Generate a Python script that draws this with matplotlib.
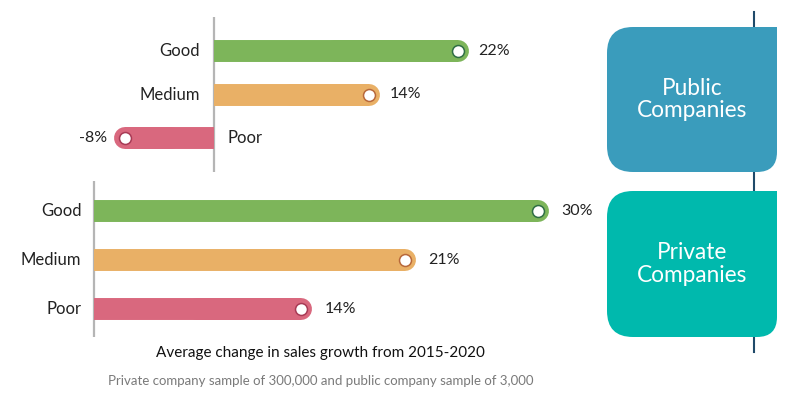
import matplotlib
matplotlib.use('Agg')
import matplotlib.pyplot as plt
from matplotlib.path import Path
from matplotlib.patches import PathPatch

plt.rcParams['font.family'] = ['Lato', 'DejaVu Sans']

categories = ['Good', 'Medium', 'Poor']
public_values = [22, 14, -8]
private_values = [30, 21, 14]
panel_titles = ['Public\nCompanies', 'Private\nCompanies']
caption = 'Average change in sales growth from 2015-2020'
subcaption = 'Private company sample of 300,000 and public company sample of 3,000'

bar_colors = ['#7db55a', '#e9b066', '#d9687e']
edge_colors = ['#2f6e45', '#b8683a', '#a83a55']
box_colors = ['#3a9cbc', '#00b9ad']

W, H = 800, 398
fig = plt.figure(figsize=(W / 100, H / 100), dpi=100)


def px_axes(x0, y0, x1, y1):
    # axes placed in pixel coords measured from top-left
    return fig.add_axes([x0 / W, 1 - y1 / H, (x1 - x0) / W, (y1 - y0) / H])


def draw_panel(ax, values, label_gap, val_gap):
    ax.axvline(0, color='#b5b5b5', lw=1.6, zorder=1)
    for i, (cat, v) in enumerate(zip(categories, values)):
        c = bar_colors[i]
        ax.plot([0, v], [i, i], color=c, lw=15.8, solid_capstyle='butt', zorder=2)
        ax.plot([v * 0.5, v], [i, i], color=c, lw=15.8, solid_capstyle='round', zorder=2)
        ax.plot([v], [i], 'o', ms=8.6, mfc='white', mec=edge_colors[i], mew=1.1, zorder=3)
        txt = f'{v}%'
        if v >= 0:
            ax.annotate(txt, (v, i), xytext=(val_gap, 0), textcoords='offset points',
                        ha='left', va='center', fontsize=11.5, color='#222222')
            ax.annotate(cat, (0, i), xytext=(-label_gap, 0), textcoords='offset points',
                        ha='right', va='center', fontsize=12, color='#222222')
        else:
            ax.annotate(txt, (v, i), xytext=(-13, 0), textcoords='offset points',
                        ha='right', va='center', fontsize=11.5, color='#222222')
            ax.annotate(cat, (0, i), xytext=(label_gap, 0), textcoords='offset points',
                        ha='left', va='center', fontsize=12, color='#222222')
    ax.axis('off')


# public companies panel
ax1 = px_axes(0, 17, 600, 172)
draw_panel(ax1, public_values, 10, 14.5)
ax1.set_xlim(-19.28, 34.77)
ax1.set_ylim(2.78, -0.78)

# private companies panel
ax2 = px_axes(0, 181, 600, 337)
draw_panel(ax2, private_values, 9, 17)
ax2.set_xlim(-6.35, 34.2)
ax2.set_ylim(2.56, -0.6)

# decoration layer in pixel coordinates
deco = fig.add_axes([0, 0, 1, 1], zorder=-1)
deco.set_xlim(0, W)
deco.set_ylim(H, 0)
deco.axis('off')

deco.plot([754, 754], [12, 352], color='#1f4a6a', lw=1.5, zorder=1)


def rounded_box(x0, y0, x1, y1, r_tl, r_tr, r_br, r_bl):
    verts = [
        (x0 + r_tl, y0), (x1 - r_tr, y0), (x1, y0), (x1, y0 + r_tr),
        (x1, y1 - r_br), (x1, y1), (x1 - r_br, y1),
        (x0 + r_bl, y1), (x0, y1), (x0, y1 - r_bl),
        (x0, y0 + r_tl), (x0, y0), (x0 + r_tl, y0),
    ]
    codes = [Path.MOVETO, Path.LINETO, Path.CURVE3, Path.CURVE3,
             Path.LINETO, Path.CURVE3, Path.CURVE3,
             Path.LINETO, Path.CURVE3, Path.CURVE3,
             Path.LINETO, Path.CURVE3, Path.CURVE3]
    return Path(verts, codes)


boxes = [(607, 27, 777, 172), (607, 191, 777, 337)]
for (x0, y0, x1, y1), col, title in zip(boxes, box_colors, panel_titles):
    deco.add_patch(PathPatch(rounded_box(x0, y0, x1, y1, 26, 0, 20, 26),
                             facecolor=col, edgecolor='none', zorder=2))
    deco.text((x0 + x1) / 2, (y0 + y1) / 2, title, ha='center', va='center',
              fontsize=16.3, color='white', linespacing=1.1, zorder=3)

fig.text(320 / W, 1 - 353 / H, caption, ha='center', va='center',
         fontsize=11, color='#111111')
fig.text(321 / W, 1 - 381 / H, subcaption, ha='center', va='center',
         fontsize=9.5, color='#7a7a7a')

fig.savefig('out.png', dpi=100, facecolor='white')
